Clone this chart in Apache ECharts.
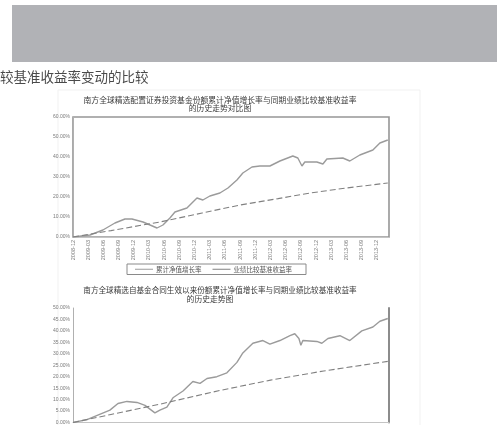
<!DOCTYPE html>
<html>
<head>
<meta charset="utf-8">
<script src="https://cdn.jsdelivr.net/npm/echarts@6/dist/echarts.min.js"></script>
<style>
  html, body { margin: 0; padding: 0; background: #fff; }
  #main { width: 497px; height: 425px; }
</style>
</head>
<body>
<div id="main"></div>
<script>
// 两张累计净值增长率与基准收益率对比图（扫描件翻拍）
// x 轴用刻度序号（0..20），标签从 tickLabels 取

const tickLabels = [
  '2008-12', '2009-03', '2009-06', '2009-09', '2009-12', '2010-03', '2010-06',
  '2010-09', '2010-12', '2011-03', '2011-06', '2011-09', '2011-12', '2012-03',
  '2012-06', '2012-09', '2012-12', '2013-03', '2013-06', '2013-09', '2013-12'
];

const legendNames = ['累计净值增长率', '业绩比较基准收益率'];

// 图一：[刻度位置, 收益率%]
const fund1 = [
  [0, 0], [1.12, 1.0], [1.97, 3.5], [2.76, 7.0], [3.42, 9.0], [3.88, 9.0],
  [4.61, 7.5], [5.07, 6.0], [5.53, 4.5], [5.92, 6.0], [6.38, 9.5], [6.71, 12.5],
  [7.5, 14.5], [8.16, 19.5], [8.55, 18.5], [9.01, 20.5], [9.67, 22.0], [10.2, 24.5],
  [10.79, 28.5], [11.18, 32.0], [11.78, 35.0], [12.3, 35.5], [12.96, 35.5],
  [13.62, 38.0], [14.47, 40.5], [14.8, 39.5], [15.07, 35.5], [15.26, 37.5],
  [16.05, 37.5], [16.45, 36.5], [16.71, 39.0], [17.76, 39.5], [18.22, 38.0],
  [18.88, 41.0], [19.74, 43.5], [20.2, 47.0], [20.72, 48.5]
];
const bench1 = [
  [0, 0], [2.5, 3.2], [5.72, 7.5], [8.5, 12.0], [11.0, 16.0], [13.5, 19.2],
  [15.6, 22.0], [18.0, 24.5], [20.72, 27.0]
];

// 图二（下半部分被截断）
const fund2 = [
  [0, 0], [0.92, 1.25], [2.43, 5.4], [2.96, 8.3], [3.55, 9.2], [4.21, 8.75],
  [4.74, 7.5], [5.39, 4.2], [5.72, 5.4], [6.18, 6.7], [6.58, 10.8], [7.24, 13.75],
  [7.89, 17.9], [8.36, 17.1], [8.82, 19.2], [9.47, 20.0], [10.13, 21.7],
  [10.79, 26.25], [11.18, 30.4], [11.84, 34.6], [12.5, 35.8], [12.96, 34.2],
  [13.62, 35.8], [14.28, 37.9], [14.6, 38.75], [14.87, 36.7], [15.0, 33.75],
  [15.13, 35.8], [16.05, 35.4], [16.38, 34.6], [16.78, 36.7], [17.57, 37.9],
  [18.22, 35.8], [19.01, 40.0], [19.74, 41.7], [20.2, 44.2], [20.72, 45.4]
];
const bench2 = [
  [0, 0], [2.5, 3.5], [5.72, 8.0], [9.67, 14.0], [13.0, 18.5], [16.5, 22.5],
  [20.72, 26.7]
];

const titles1 = ['南方全球精选配置证券投资基金份额累计净值增长率与同期业绩比较基准收益率', '的历史走势对比图'];
const titles2 = ['南方全球精选自基金合同生效以来份额累计净值增长率与同期业绩比较基准收益率', '的历史走势图'];
const heading = '较基准收益率变动的比较';

const CJK = '"Noto Sans CJK SC", "Noto Sans", sans-serif';
const pct = v => v.toFixed(2) + '%';

function xAxisFor(gridIndex, showLabels) {
  return {
    type: 'value', gridIndex, min: 0, max: 20.8, interval: 1,
    axisLine: { show: true, onZero: false, lineStyle: { color: '#c4c4c4', width: 1 } },
    axisTick: { show: false },
    splitLine: { show: false },
    axisLabel: {
      show: showLabels, rotate: 90, fontSize: 5.5, color: '#7a7a7a', margin: 3,
      fontFamily: 'Liberation Sans', showMaxLabel: false,
      formatter: v => tickLabels[v] || ''
    }
  };
}
function yAxisFor(gridIndex, max, interval) {
  return {
    type: 'value', gridIndex, min: 0, max, interval,
    axisLine: { show: true, onZero: false, lineStyle: { color: '#b0b0b0', width: 1 } },
    axisTick: { show: false },
    splitLine: { show: false },
    axisLabel: { fontSize: 5, color: '#7a7a7a', margin: 3, fontFamily: 'Liberation Sans', formatter: pct }
  };
}
function rightBorder(gridIndex, max) {
  return {
    type: 'value', gridIndex, position: 'right', min: 0, max,
    axisLine: { show: true, onZero: false, lineStyle: { color: '#8c8c8c', width: 2 } },
    axisTick: { show: false }, axisLabel: { show: false }, splitLine: { show: false }
  };
}
function fundSeries(data, xi, yi) {
  return {
    name: legendNames[0], type: 'line', xAxisIndex: xi, yAxisIndex: yi, data,
    showSymbol: false, symbol: 'none', silent: true,
    lineStyle: { color: '#9b9b9b', width: 1.4 }, itemStyle: { color: '#9b9b9b' }
  };
}
function benchSeries(data, xi, yi) {
  return {
    name: legendNames[1], type: 'line', xAxisIndex: xi, yAxisIndex: yi, data,
    showSymbol: false, symbol: 'none', silent: true,
    lineStyle: { color: '#808080', width: 1.1, type: [6, 3] }, itemStyle: { color: '#808080' }
  };
}

const chart = echarts.init(document.getElementById('main'));
chart.setOption({
  animation: false,
  backgroundColor: '#fff',
  grid: [
    { left: 73, top: 117, width: 316, height: 120, show: true, borderColor: '#969696', borderWidth: 1.6 },
    { left: 73, top: 308, width: 316, height: 120 }
  ],
  xAxis: [xAxisFor(0, true), xAxisFor(1, false)],
  yAxis: [yAxisFor(0, 60, 10), yAxisFor(1, 50, 5), rightBorder(1, 50)],
  legend: {
    data: legendNames, left: 127, top: 264,
    padding: [2, 14, 2, 8], itemGap: 11, itemWidth: 18, itemHeight: 7,
    borderColor: '#8a8a8a', borderWidth: 1,
    textStyle: { fontSize: 6.5, color: '#555', fontFamily: CJK, padding: [0, 0, 0, -2] },
    icon: 'path://M0,0 L18,0 L18,1 L0,1 Z'
  },
  series: [
    fundSeries(fund1, 0, 0), benchSeries(bench1, 0, 0),
    fundSeries(fund2, 1, 1), benchSeries(bench2, 1, 1)
  ],
  graphic: [
    { type: 'rect', shape: { x: 58, y: 90, width: 362, height: 340 }, style: { fill: 'none', stroke: '#f1f1f1', lineWidth: 1 }, silent: true },
    { type: 'rect', shape: { x: 12, y: 5, width: 490, height: 57 }, style: { fill: '#b1b2b6' }, silent: true },
    { type: 'text', style: { x: 0, y: 77, text: heading, fill: '#4a4a4a', font: '13.5px ' + CJK, textVerticalAlign: 'middle' }, silent: true },
    { type: 'text', style: { x: 220, y: 100, text: titles1[0], fill: '#3a3a3a', font: '7.8px ' + CJK, textAlign: 'center', textVerticalAlign: 'middle' }, silent: true },
    { type: 'text', style: { x: 220, y: 108, text: titles1[1], fill: '#3a3a3a', font: '7.8px ' + CJK, textAlign: 'center', textVerticalAlign: 'middle' }, silent: true },
    { type: 'text', style: { x: 220, y: 290, text: titles2[0], fill: '#3a3a3a', font: '7.6px ' + CJK, textAlign: 'center', textVerticalAlign: 'middle' }, silent: true },
    { type: 'text', style: { x: 210, y: 299, text: titles2[1], fill: '#3a3a3a', font: '7.8px ' + CJK, textAlign: 'center', textVerticalAlign: 'middle' }, silent: true }
  ]
});
</script>
</body>
</html>
